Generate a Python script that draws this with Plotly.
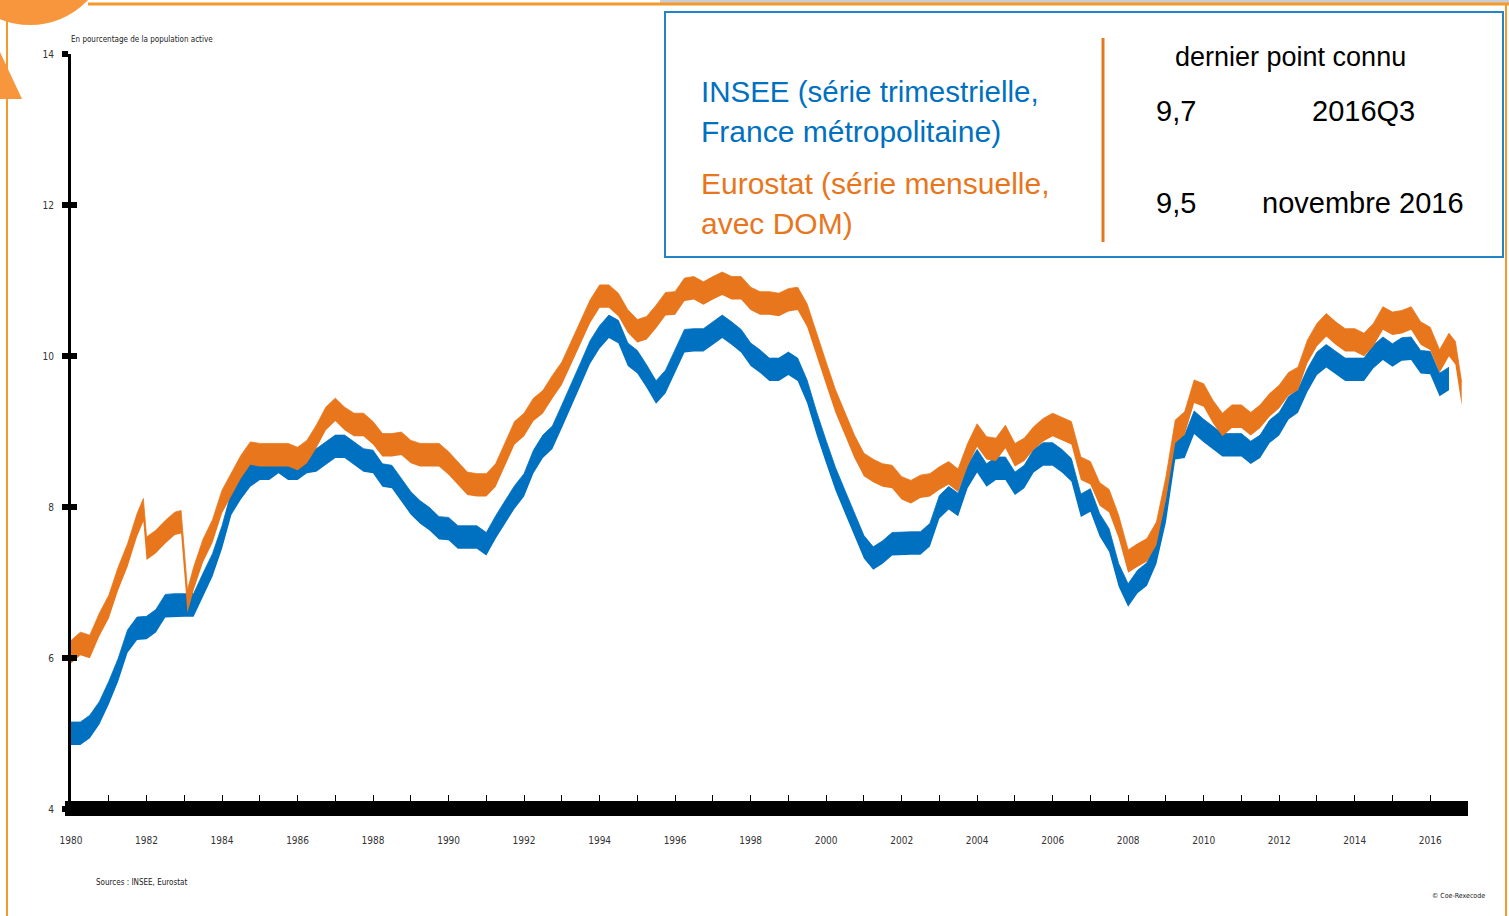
import pandas as pd
import plotly.graph_objects as go

# ---------------- data ----------------
insee_start = "1980-01-01"  # quarterly, 1980Q1 .. 2016Q3
insee_values = [
    5.00, 5.00, 5.09, 5.27,
    5.54, 5.84, 6.22, 6.39,
    6.40, 6.49, 6.69, 6.70,
    6.70, 6.70, 6.97, 7.23,
    7.60, 8.05, 8.25, 8.42,
    8.51, 8.51, 8.60, 8.51,
    8.51, 8.60, 8.62, 8.71,
    8.80, 8.80, 8.71, 8.62,
    8.60, 8.42, 8.40, 8.22,
    8.05, 7.93, 7.84, 7.72,
    7.71, 7.60, 7.60, 7.60,
    7.51, 7.73, 7.93, 8.13,
    8.29, 8.60, 8.80, 8.92,
    9.20, 9.47, 9.76, 10.05,
    10.25, 10.39, 10.32, 10.02,
    9.92, 9.73, 9.52, 9.66,
    9.93, 10.20, 10.21, 10.21,
    10.30, 10.39, 10.30, 10.20,
    10.02, 9.93, 9.82, 9.82,
    9.90, 9.82, 9.53, 9.11,
    8.73, 8.37, 8.07, 7.78,
    7.47, 7.32, 7.40, 7.51,
    7.52, 7.52, 7.52, 7.63,
    8.00, 8.12, 8.03, 8.40,
    8.61, 8.42, 8.51, 8.51,
    8.31, 8.40, 8.61, 8.70,
    8.70, 8.61, 8.49, 8.02,
    8.09, 7.76, 7.56, 7.10,
    6.83, 7.01, 7.11, 7.40,
    7.95, 8.78, 8.80, 9.12,
    9.01, 8.91, 8.82, 8.82,
    8.82, 8.72, 8.80, 9.00,
    9.10, 9.31, 9.40, 9.68,
    9.90, 10.00, 9.91, 9.82,
    9.82, 9.82, 9.99, 10.10,
    10.01, 10.09, 10.10, 9.92,
    9.91, 9.62, 9.70,
]

eurostat_dates = [
    "1980-01", "1980-04", "1980-07", "1980-10", "1981-01", "1981-04", "1981-07", "1981-10", "1981-12",
    "1982-01", "1982-04", "1982-07", "1982-10", "1982-12", "1983-02", "1983-04", "1983-07", "1983-10",
    "1984-01", "1984-04", "1984-07", "1984-10", "1985-01", "1985-04", "1985-07", "1985-10",
    "1986-01", "1986-04", "1986-07", "1986-10", "1987-01", "1987-04", "1987-07", "1987-10",
    "1988-01", "1988-04", "1988-07", "1988-10", "1989-01", "1989-04", "1989-07", "1989-10",
    "1990-01", "1990-04", "1990-07", "1990-10", "1991-01", "1991-04", "1991-07", "1991-10",
    "1992-01", "1992-04", "1992-07", "1992-10", "1993-01", "1993-04", "1993-07", "1993-10",
    "1994-01", "1994-04", "1994-07", "1994-10", "1995-01", "1995-04", "1995-07", "1995-10",
    "1996-01", "1996-04", "1996-07", "1996-10", "1997-01", "1997-04", "1997-07", "1997-10",
    "1998-01", "1998-04", "1998-07", "1998-10", "1999-01", "1999-04", "1999-07", "1999-10",
    "2000-01", "2000-04", "2000-07", "2000-10", "2001-01", "2001-04", "2001-07", "2001-10",
    "2002-01", "2002-04", "2002-07", "2002-10", "2003-01", "2003-04", "2003-07", "2003-10",
    "2004-01", "2004-04", "2004-07", "2004-10", "2005-01", "2005-04", "2005-07", "2005-10",
    "2006-01", "2006-04", "2006-07", "2006-10", "2007-01", "2007-04", "2007-07", "2007-10",
    "2008-01", "2008-04", "2008-07", "2008-10", "2009-01", "2009-04", "2009-07", "2009-10",
    "2010-01", "2010-04", "2010-07", "2010-10", "2011-01", "2011-04", "2011-07", "2011-10",
    "2012-01", "2012-04", "2012-07", "2012-10", "2013-01", "2013-04", "2013-07", "2013-10",
    "2014-01", "2014-04", "2014-07", "2014-10", "2015-01", "2015-04", "2015-07", "2015-10",
    "2016-01", "2016-04", "2016-07", "2016-09", "2016-11",
]
eurostat_values = [
    6.08, 6.19, 6.15, 6.44, 6.68, 7.05, 7.36, 7.76, 7.96,
    7.45, 7.54, 7.67, 7.78, 7.80, 6.75, 7.05, 7.42, 7.68,
    8.07, 8.31, 8.53, 8.71, 8.69, 8.69, 8.69, 8.69,
    8.64, 8.73, 8.93, 9.17, 9.29, 9.17, 9.09, 9.09,
    8.98, 8.82, 8.82, 8.84, 8.73, 8.69, 8.69, 8.69,
    8.58, 8.45, 8.31, 8.29, 8.29, 8.42, 8.71, 8.98,
    9.09, 9.29, 9.39, 9.59, 9.77, 10.04, 10.30, 10.59,
    10.79, 10.79, 10.68, 10.46, 10.33, 10.37, 10.52, 10.69,
    10.70, 10.88, 10.90, 10.83, 10.90, 10.96, 10.90, 10.90,
    10.76, 10.70, 10.70, 10.68, 10.74, 10.76, 10.54, 10.17,
    9.77, 9.40, 9.10, 8.80, 8.56, 8.48, 8.42, 8.40,
    8.25, 8.20, 8.27, 8.29, 8.38, 8.45, 8.35, 8.69,
    8.95, 8.78, 8.76, 8.93, 8.69, 8.76, 8.91, 9.02,
    9.09, 9.04, 8.98, 8.51, 8.45, 8.17, 8.08, 7.74,
    7.28, 7.36, 7.43, 7.65, 8.25, 9.00, 9.11, 9.53,
    9.48, 9.26, 9.09, 9.20, 9.20, 9.10, 9.20, 9.35,
    9.46, 9.63, 9.70, 10.06, 10.28, 10.41, 10.30, 10.21,
    10.21, 10.15, 10.28, 10.50, 10.43, 10.45, 10.50, 10.30,
    10.23, 9.93, 10.15, 10.04, 9.50,
]

y_ticks = [4, 6, 8, 10, 12, 14]
x_years = list(range(1980, 2018))

# ---------------- styling ----------------
BLUE = "#0070C0"
ORANGE = "#E8761C"
DECO = "#F59A2A"
HALF = 0.152  # half thickness of the band, in percentage points

L, R, T, B = 71, 1468, 54, 809
W, H = R - L, B - T


def px(x):
    return (x - L) / W


def py(y):
    return (B - y) / H


insee_dates = pd.date_range(insee_start, periods=len(insee_values), freq="QS")
eu_dates = pd.to_datetime(eurostat_dates)

fig = go.Figure()


def band(dates, vals, color, name):
    fig.add_trace(go.Scatter(x=dates, y=[v - HALF for v in vals], mode="lines",
                             line=dict(width=0, color=color), hoverinfo="skip",
                             showlegend=False))
    fig.add_trace(go.Scatter(x=dates, y=[v + HALF for v in vals], mode="lines",
                             line=dict(width=0.8, color=color), fill="tonexty",
                             fillcolor=color, name=name, showlegend=False,
                             customdata=vals, hovertemplate="%{customdata}<extra></extra>"))


band(insee_dates, insee_values, BLUE, "INSEE")
band(eu_dates, eurostat_values, ORANGE, "Eurostat")
# invisible trace to carry the secondary y axis (inner half of the cross ticks)
fig.add_trace(go.Scatter(x=[insee_dates[0]], y=[insee_values[0]], yaxis="y2",
                         mode="markers", marker=dict(opacity=0), hoverinfo="skip",
                         showlegend=False))

narrow = "Liberation Sans Narrow, DejaVu Sans Condensed, sans-serif"
small_font = dict(family=narrow, size=10, color="#333333")

fig.update_layout(
    width=1509, height=916,
    margin=dict(l=L, r=1509 - R, t=T, b=916 - B),
    paper_bgcolor="white", plot_bgcolor="white",
    showlegend=False,
    xaxis=dict(
        type="date", range=["1980-01-01", "2017-01-01"],
        tickmode="array",
        tickvals=[f"{y}-01-01" for y in x_years],
        ticktext=[str(y) if y % 2 == 0 and y < 2017 else "" for y in x_years],
        ticks="inside", ticklen=14, tickwidth=1, tickcolor="black",
        showgrid=False, zeroline=False, showline=False,
        tickfont=small_font, ticklabelstandoff=24,
    ),
    yaxis=dict(
        range=[4, 14], tickmode="array", tickvals=y_ticks,
        ticktext=[str(v) for v in y_ticks],
        ticks="outside", ticklen=6, tickwidth=6, tickcolor="black",
        showline=True, linewidth=3, linecolor="black",
        showgrid=False, zeroline=False,
        tickfont=small_font, ticklabelstandoff=6,
    ),
    yaxis2=dict(
        range=[4, 14], overlaying="y", side="left", anchor="x",
        tickmode="array", tickvals=y_ticks,
        ticks="inside", ticklen=6, tickwidth=6, tickcolor="black",
        showticklabels=False, showline=False, showgrid=False, zeroline=False,
    ),
)

shapes = []
# decorative frame pieces
shapes.append(dict(type="rect", xref="paper", yref="paper", x0=px(660), x1=px(1509),
                   y0=py(0), y1=py(3), fillcolor="#C9CED6", line=dict(width=0), layer="above"))
shapes.append(dict(type="line", xref="paper", yref="paper", x0=px(88), x1=px(1509),
                   y0=py(4), y1=py(4), line=dict(color=DECO, width=3), layer="above"))
shapes.append(dict(type="line", xref="paper", yref="paper", x0=px(7), x1=px(7),
                   y0=py(18), y1=py(916), line=dict(color=DECO, width=2), layer="above"))
shapes.append(dict(type="line", xref="paper", yref="paper", x0=px(1506), x1=px(1506),
                   y0=py(4), y1=py(916), line=dict(color=DECO, width=2), layer="above"))
shapes.append(dict(type="circle", xref="paper", yref="paper", x0=px(-50), x1=px(110),
                   y0=py(25), y1=py(-135), fillcolor="#F7963C", line=dict(width=0), layer="above"))
shapes.append(dict(type="path", xref="paper", yref="paper",
                   path=f"M {px(0)},{py(52)} L {px(22)},{py(99)} L {px(0)},{py(99)} Z",
                   fillcolor="#F7963C", line=dict(width=0), layer="above"))
# thick black x-axis bar
shapes.append(dict(type="rect", xref="paper", yref="paper", x0=px(65), x1=px(1468),
                   y0=py(816), y1=py(801), fillcolor="black", line=dict(width=0), layer="above"))
# legend box
shapes.append(dict(type="rect", xref="paper", yref="paper", x0=px(665), x1=px(1503),
                   y0=py(257), y1=py(12), fillcolor="white",
                   line=dict(color="#2283C6", width=2), layer="above"))
shapes.append(dict(type="line", xref="paper", yref="paper", x0=px(1103), x1=px(1103),
                   y0=py(242), y1=py(38), line=dict(color=ORANGE, width=3), layer="above"))
fig.update_layout(shapes=shapes)

big = "Liberation Sans, Arial, sans-serif"


def note(text, x, y, size, color, xanchor="left", family=big):
    fig.add_annotation(text=text, xref="paper", yref="paper", x=px(x), y=py(y),
                       xanchor=xanchor, yanchor="middle", showarrow=False,
                       font=dict(family=family, size=size, color=color))


note("INSEE (série trimestrielle,", 699, 91, 29.5, BLUE)
note("France métropolitaine)", 699, 131, 30, BLUE)
note("Eurostat (série mensuelle,", 699, 183, 30, ORANGE)
note("avec DOM)", 699, 223, 30, ORANGE)
note("dernier point connu", 1290, 57, 27, "black", "center")
note("9,7", 1176, 111, 29, "black", "center")
note("2016Q3", 1363, 111, 29, "black", "center")
note("9,5", 1176, 203, 29, "black", "center")
note("novembre 2016", 1363, 203, 29, "black", "center")

note("En pourcentage de la population active", 69, 40, 8, "#222222", family=narrow)
note("Sources : INSEE, Eurostat", 94, 882, 8, "#222222", family=narrow)
note("© Coe-Rexecode", 1487, 896, 7, "#222222", "right", family=narrow)

fig.write_html("out.html", config={"displayModeBar": False},
               post_script="document.body.style.margin='0';")
